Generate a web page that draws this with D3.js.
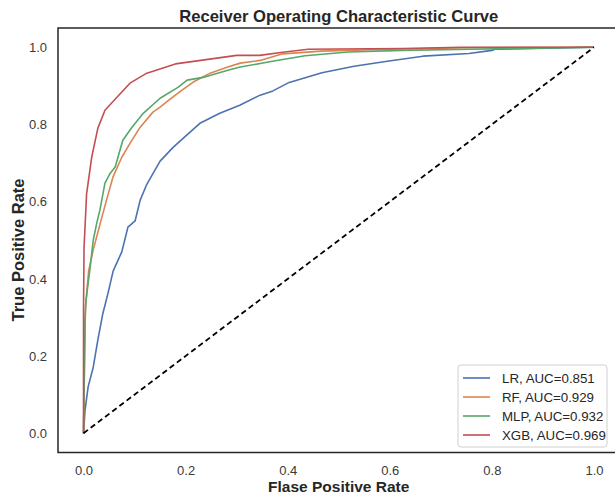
<!DOCTYPE html>
<html>
<head>
<meta charset="utf-8">
<script src="https://cdn.jsdelivr.net/npm/d3@7"></script>
<style>
  body { margin: 0; background: #fff; }
  text { font-family: "Liberation Sans", Arial, sans-serif; }
</style>
</head>
<body>
<div id="chart"></div>
<script>
// ROC points (fpr, tpr)
const lrFpr = [0, 0.003, 0.009, 0.019, 0.028, 0.038, 0.048, 0.058, 0.075, 0.087, 0.101, 0.111, 0.124, 0.15, 0.175, 0.189, 0.228, 0.267, 0.306, 0.346, 0.371, 0.403, 0.467, 0.53, 0.595, 0.665, 0.755, 0.80, 0.806, 0.882, 1.0];
const lrTpr = [0, 0.06, 0.12, 0.171, 0.241, 0.311, 0.363, 0.42, 0.47, 0.534, 0.55, 0.604, 0.645, 0.705, 0.74, 0.757, 0.803, 0.829, 0.85, 0.876, 0.887, 0.909, 0.934, 0.951, 0.964, 0.977, 0.984, 0.992, 0.995, 0.997, 1.0];

const rfFpr = [0, 0.002, 0.004, 0.01, 0.019, 0.026, 0.036, 0.045, 0.058, 0.075, 0.091, 0.111, 0.136, 0.15, 0.169, 0.189, 0.215, 0.248, 0.281, 0.307, 0.346, 0.39, 0.466, 0.595, 0.755, 1.0];
const rfTpr = [0, 0.2, 0.33, 0.42, 0.475, 0.51, 0.56, 0.604, 0.665, 0.715, 0.751, 0.793, 0.832, 0.845, 0.865, 0.885, 0.91, 0.933, 0.948, 0.959, 0.966, 0.983, 0.99, 0.995, 0.999, 1.0];

const mlpFpr = [0, 0.002, 0.003, 0.005, 0.013, 0.019, 0.026, 0.032, 0.042, 0.052, 0.062, 0.077, 0.095, 0.117, 0.15, 0.185, 0.203, 0.234, 0.281, 0.307, 0.346, 0.37, 0.434, 0.518, 0.626, 0.755, 1.0];
const mlpTpr = [0, 0.19, 0.3, 0.345, 0.43, 0.5, 0.545, 0.578, 0.648, 0.673, 0.69, 0.759, 0.793, 0.829, 0.868, 0.896, 0.915, 0.922, 0.94, 0.949, 0.958, 0.964, 0.978, 0.988, 0.992, 0.995, 1.0];

const xgbFpr = [0, 0, 0.001, 0.006, 0.016, 0.028, 0.042, 0.065, 0.091, 0.124, 0.18, 0.30, 0.345, 0.39, 0.44, 0.626, 0.74, 1.0];
const xgbTpr = [0, 0.32, 0.48, 0.62, 0.715, 0.79, 0.837, 0.87, 0.907, 0.933, 0.957, 0.979, 0.979, 0.987, 0.995, 0.997, 1.0, 1.0];

const models = ['LR', 'RF', 'MLP', 'XGB'];
const aucs = [0.851, 0.929, 0.932, 0.969];
const colors = ['#4c72b0', '#dd8452', '#55a868', '#c44e52'];
const ticks = [0, 0.2, 0.4, 0.6, 0.8, 1.0];

const curves = [
    d3.zip(lrFpr, lrTpr),
    d3.zip(rfFpr, rfTpr),
    d3.zip(mlpFpr, mlpTpr),
    d3.zip(xgbFpr, xgbTpr)
];

const width = 615;
const height = 495;
const frameL = 58, frameR = 619.5, frameT = 28, frameB = 452.5;

const xScale = d3.scaleLinear().domain([-0.05, 1.05]).range([frameL, frameR]);
const yScale = d3.scaleLinear().domain([-0.05, 1.05]).range([frameB, frameT]);

const svg = d3.select('#chart')
    .append('svg')
    .attr('width', width)
    .attr('height', height);

const line = d3.line()
    .x(d => xScale(d[0]))
    .y(d => yScale(d[1]));

curves.forEach((c, i) => {
    svg.append('path')
        .datum(c)
        .attr('fill', 'none')
        .attr('stroke', colors[i])
        .attr('stroke-width', 1.6)
        .attr('stroke-linejoin', 'round')
        .attr('d', line);
});

// chance line
svg.append('path')
    .datum([[0, 0], [1, 1]])
    .attr('fill', 'none')
    .attr('stroke', '#000')
    .attr('stroke-width', 1.8)
    .attr('stroke-dasharray', '5.5,3.5')
    .attr('d', line);

// axes, no tick marks (seaborn white style)
const xAxis = svg.append('g')
    .attr('transform', `translate(0, ${frameB})`)
    .call(d3.axisBottom(xScale).tickValues(ticks).tickFormat(d3.format('.1f')).tickSize(0).tickPadding(13));
const yAxis = svg.append('g')
    .attr('transform', `translate(${frameL}, 0)`)
    .call(d3.axisLeft(yScale).tickValues(ticks).tickFormat(d3.format('.1f')).tickSize(0).tickPadding(11));
[xAxis, yAxis].forEach(a => {
    a.select('.domain').remove();
    a.selectAll('text')
        .attr('font-size', 13)
        .attr('fill', '#3a3a3a')
        .style('font-family', '"Liberation Sans", Arial, sans-serif');
});

// frame
svg.append('rect')
    .attr('x', frameL)
    .attr('y', frameT)
    .attr('width', frameR - frameL)
    .attr('height', frameB - frameT)
    .attr('fill', 'none')
    .attr('stroke', '#262626')
    .attr('stroke-width', 1.5);

svg.append('text')
    .attr('x', (frameL + frameR) / 2)
    .attr('y', 22)
    .attr('text-anchor', 'middle')
    .attr('font-size', 16.6)
    .attr('font-weight', 'bold')
    .attr('fill', '#262626')
    .text('Receiver Operating Characteristic Curve');

svg.append('text')
    .attr('x', (frameL + frameR) / 2)
    .attr('y', 492)
    .attr('text-anchor', 'middle')
    .attr('font-size', 15.5)
    .attr('font-weight', 'bold')
    .attr('fill', '#262626')
    .text('Flase Positive Rate');

svg.append('text')
    .attr('transform', `translate(24, 250) rotate(-90)`)
    .attr('text-anchor', 'middle')
    .attr('font-size', 16.5)
    .attr('font-weight', 'bold')
    .attr('fill', '#262626')
    .text('True Positive Rate');

// legend
const legend = svg.append('g').attr('transform', 'translate(458, 365)');
legend.append('rect')
    .attr('width', 149)
    .attr('height', 82)
    .attr('rx', 3)
    .attr('fill', '#fff')
    .attr('fill-opacity', 0.8)
    .attr('stroke', '#d0d0d0')
    .attr('stroke-width', 1);
models.forEach((m, i) => {
    const y = 13 + i * 19;
    legend.append('line')
        .attr('x1', 5).attr('x2', 32)
        .attr('y1', y).attr('y2', y)
        .attr('stroke', colors[i])
        .attr('stroke-width', 1.6);
    legend.append('text')
        .attr('x', 44)
        .attr('y', y + 4.8)
        .attr('font-size', 13.3)
        .attr('fill', '#262626')
        .text(`${m}, AUC=${aucs[i].toFixed(3)}`);
});
</script>
</body>
</html>
